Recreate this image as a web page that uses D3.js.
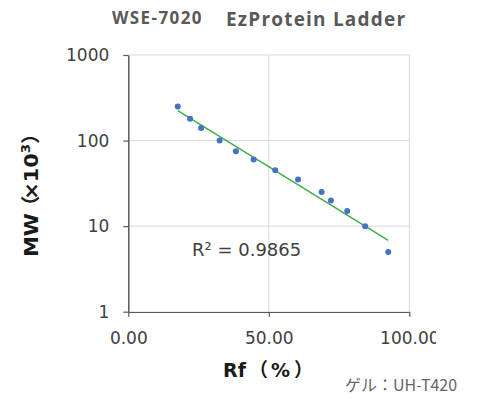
<!DOCTYPE html>
<html><head><meta charset="utf-8">
<script src="https://cdn.jsdelivr.net/npm/d3@7"></script>
<style>body{margin:0;background:#fff}svg{display:block}</style>
</head><body>
<script>
const rf = [17.6, 22.0, 25.9, 32.5, 38.3, 44.6, 52.3, 60.4, 68.8, 72.1, 77.9, 84.3, 92.5];
const mw = [250, 180, 140, 100, 75, 60, 45, 35, 25, 20, 15, 10, 5];
const xTicks = [0, 50, 100];
const yTicks = [1, 10, 100, 1000];
const r2Label = "R² = 0.9865";

const W = 479, H = 405;
const FONT = "'DejaVu Sans', Verdana, sans-serif";
const CJK = "'Noto Sans CJK JP', sans-serif";
const svg = d3.select("body").append("svg").attr("width", W).attr("height", H);
const x = d3.scaleLinear().domain([0, 100]).range([128.3, 409.3]);
const y = d3.scaleLog().domain([1, 1000]).range([311.7, 55]);

// plot border + grid
svg.append("g").selectAll("line").data(xTicks.slice(1)).join("line")
  .attr("x1", d => x(d)).attr("x2", d => x(d)).attr("y1", y(1000)).attr("y2", y(1))
  .attr("stroke", "#d9d9d9").attr("stroke-width", 1);
svg.append("g").selectAll("line").data(yTicks.slice(1)).join("line")
  .attr("x1", x(0)).attr("x2", x(100)).attr("y1", d => y(d)).attr("y2", d => y(d))
  .attr("stroke", "#d9d9d9").attr("stroke-width", 1);

// axes
const fmt = d3.format(".2f");
const gx = svg.append("g").attr("transform", `translate(0,${y(1)})`)
  .call(d3.axisBottom(x).tickValues(xTicks).tickSize(5).tickSizeOuter(0).tickPadding(15).tickFormat(fmt));
const gy = svg.append("g").attr("transform", `translate(${x(0)},0)`)
  .call(d3.axisLeft(y).tickValues(yTicks).tickSize(5).tickSizeOuter(0).tickPadding(14).tickFormat(d3.format("d")));
[gx, gy].forEach(g => {
  g.select(".domain").attr("stroke", "#595959").attr("stroke-width", 1.5);
  g.selectAll(".tick line").attr("stroke", "#595959").attr("stroke-width", 1.2);
  g.selectAll("text").attr("font-family", FONT).attr("font-size", 17).attr("fill", "#404040");
});
svg.append("clipPath").attr("id", "cl").append("rect").attr("x", 0).attr("y", 0).attr("width", 436).attr("height", H);
gx.attr("clip-path", "url(#cl)");

// regression line (least squares on log10 MW)
const ly = mw.map(v => Math.log10(v));
const mx = d3.mean(rf), my = d3.mean(ly);
const slope = d3.sum(rf.map((v, i) => (v - mx) * (ly[i] - my))) / d3.sum(rf.map(v => (v - mx) ** 2));
const icpt = my - slope * mx;
const ends = [d3.min(rf), d3.max(rf)];
svg.append("line")
  .attr("x1", x(ends[0])).attr("y1", y(Math.pow(10, icpt + slope * ends[0])))
  .attr("x2", x(ends[1])).attr("y2", y(Math.pow(10, icpt + slope * ends[1])))
  .attr("stroke", "#3cb043").attr("stroke-width", 1.5);

// points
svg.append("g").selectAll("circle").data(rf).join("circle")
  .attr("cx", d => x(d)).attr("cy", (d, i) => y(mw[i])).attr("r", 3)
  .attr("fill", "#4472c4");

// R2 label
svg.append("text").attr("x", 192).attr("y", 256).text(r2Label)
  .attr("font-family", FONT).attr("font-size", 18).attr("fill", "#404040");

// titles
svg.append("text").attr("x", 112).attr("y", 24).text("WSE-7020")
  .attr("font-family", "'Open Sans', sans-serif").attr("font-weight", 700).attr("font-size", 17)
  .attr("letter-spacing", 1.4).attr("fill", "#595959");
svg.append("text").attr("x", 226).attr("y", 26).text("EzProtein Ladder")
  .attr("font-family", "'Open Sans', sans-serif").attr("font-weight", 700).attr("font-size", 19)
  .attr("letter-spacing", 1.2).attr("fill", "#595959");

// x title
const xl = svg.append("text").attr("x", 223).attr("y", 377)
  .attr("font-family", FONT).attr("font-weight", "bold").attr("font-size", 19).attr("fill", "#1a1a1a");
xl.append("tspan").text("Rf");
xl.append("tspan").text("（").attr("font-family", CJK).attr("dx", 3);
xl.append("tspan").text("%").attr("dx", 3);
xl.append("tspan").text("）").attr("font-family", CJK).attr("dx", 4);

// y title
const yl = svg.append("text").attr("transform", "translate(38,257) rotate(-90)")
  .attr("font-family", FONT).attr("font-weight", "bold").attr("font-size", 19).attr("fill", "#1a1a1a")
  .attr("textLength", 134).attr("lengthAdjust", "spacingAndGlyphs");
yl.append("tspan").text("MW");
yl.append("tspan").text("（").attr("font-family", CJK).attr("dx", -3);
yl.append("tspan").text("×10").attr("dx", -4);
yl.append("tspan").text("3").attr("font-size", 12).attr("dy", -8);
yl.append("tspan").text("）").attr("font-family", CJK).attr("dy", 8);

svg.append("text").attr("x", 345).attr("y", 391).text("ゲル：UH-T420")
  .attr("font-family", CJK).attr("font-size", 16).attr("fill", "#666");
</script>
</body></html>
